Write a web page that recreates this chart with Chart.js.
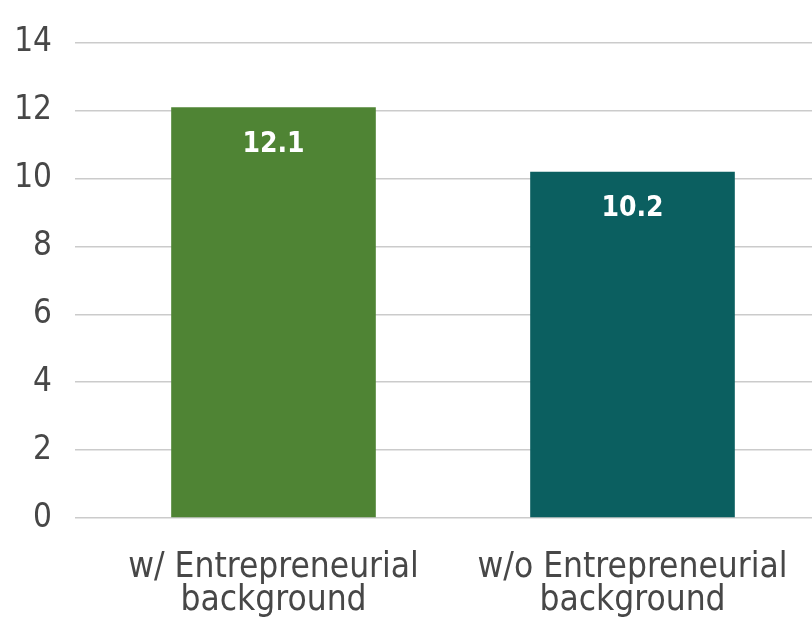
<!DOCTYPE html>
<html>
<head>
<meta charset="utf-8">
<title>Entrepreneurial background</title>
<script src="https://cdn.jsdelivr.net/npm/chart.js@4.4.1/dist/chart.umd.min.js"></script>
<style>
    html, body { margin: 0; padding: 0; background: #ffffff; overflow: hidden; }
    #wrap { width: 812px; height: 618px; }
</style>
</head>
<body>
<div id="wrap"><canvas id="barChart" width="812" height="618"></canvas></div>
<script>
const categories = [
    ['w/ Entrepreneurial', 'background'],
    ['w/o Entrepreneurial', 'background'],
];
const values = [12.1, 10.2];
const barColors = ['#4f8434', '#0b5f60'];
const yTicks = [0, 2, 4, 6, 8, 10, 12, 14];

const fontFamily = '"Liberation Sans Narrow", "DejaVu Sans Condensed", "Roboto", sans-serif';
const textColor = '#474747';

// white value labels just below the top of each bar
const valueLabels = {
    id: 'valueLabels',
    afterDatasetsDraw(chart) {
        const ctx = chart.ctx;
        const meta = chart.getDatasetMeta(0);
        ctx.save();
        ctx.fillStyle = '#ffffff';
        ctx.font = 'bold 28px ' + fontFamily;
        ctx.textAlign = 'center';
        ctx.textBaseline = 'middle';
        meta.data.forEach((bar, i) => {
            ctx.fillText(values[i].toFixed(1), bar.x, bar.y + 37);
        });
        ctx.restore();
    }
};

new Chart(document.getElementById('barChart'), {
    type: 'bar',
    data: {
        labels: categories,
        datasets: [{
            data: values,
            backgroundColor: barColors,
            borderWidth: 0,
            categoryPercentage: 1.0,
            barPercentage: 0.57
        }]
    },
    options: {
        responsive: false,
        animation: false,
        layout: { padding: { top: 42, right: 0, left: 0, bottom: 0 } },
        plugins: {
            legend: { display: false },
            tooltip: { enabled: false }
        },
        scales: {
            x: {
                afterFit(scale) {
                    // fixed height, and no extra side room for the wide labels
                    scale.height = 100;
                    scale.paddingLeft = 0;
                    scale.paddingRight = 0;
                },
                grid: { display: false, drawTicks: false },
                border: { display: false },
                ticks: {
                    color: textColor,
                    padding: 33,
                    maxRotation: 0,
                    font: { family: fontFamily, size: 35, lineHeight: 0.95 }
                }
            },
            y: {
                min: 0,
                max: 14,
                afterBuildTicks(scale) {
                    scale.ticks = yTicks.map(v => ({ value: v }));
                },
                afterFit(scale) {
                    scale.width = 94;
                },
                grid: {
                    color: '#cbcbcb',
                    lineWidth: 1.5,
                    drawTicks: true,
                    tickLength: 19
                },
                border: { display: false },
                ticks: {
                    color: textColor,
                    padding: 23,
                    font: { family: fontFamily, size: 33 }
                }
            }
        }
    },
    plugins: [valueLabels]
});
</script>
</body>
</html>
